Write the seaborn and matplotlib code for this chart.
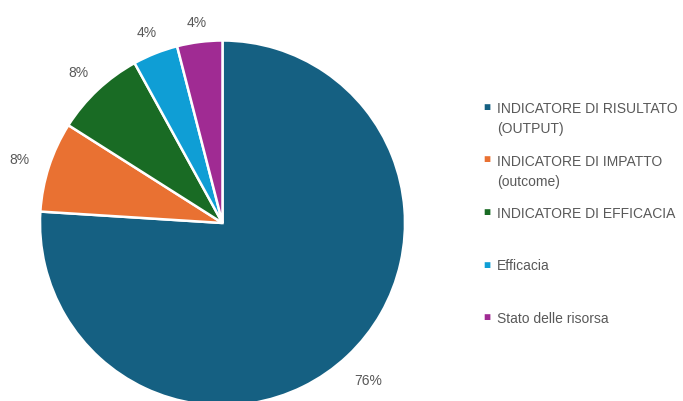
import matplotlib
matplotlib.use("Agg")
import numpy as np
import matplotlib.pyplot as plt
import seaborn as sns

# ── Data ──────────────────────────────────────────────────────────────────────
categories = [
    "INDICATORE DI RISULTATO\n(OUTPUT)",
    "INDICATORE DI IMPATTO\n(outcome)",
    "INDICATORE DI EFFICACIA",
    "Efficacia",
    "Stato delle risorsa",
]
values = [76, 8, 8, 4, 4]
colors = ["#156082", "#E97132", "#196B24", "#0F9ED5", "#A02B93"]

# ── Style ─────────────────────────────────────────────────────────────────────
sns.set_theme(style="white")
plt.rcParams["font.family"] = ["Liberation Sans", "DejaVu Sans"]
text_color = "#595959"

W, H = 683, 401
CX, CY, R = 222.5, H - 223, 182.5

fig = plt.figure(figsize=(W / 100, H / 100), dpi=100)
ax = fig.add_axes([0, 0, 1, 1])

wedges, texts, autotexts = ax.pie(
    values,
    colors=colors,
    startangle=90,
    counterclock=False,
    center=(CX, CY),
    radius=R,
    autopct="%1.0f%%",
    wedgeprops=dict(edgecolor="white", linewidth=1.8),
    textprops=dict(color=text_color, fontsize=10, ha="center", va="center"),
    frame=True,
)
for w in wedges:
    w.set_clip_on(False)

ax.set_xlim(0, W)
ax.set_ylim(0, H)
ax.set_aspect("equal")
ax.axis("off")

# data labels outside the pie, pushed out a bit more where the text is wide
fig.canvas.draw()
renderer = fig.canvas.get_renderer()
gap = 21
for w, t in zip(wedges, autotexts):
    ang = np.deg2rad((w.theta1 + w.theta2) / 2)
    hw = t.get_window_extent(renderer).width / 2
    d = R + gap + abs(np.cos(ang)) * hw
    t.set_position((CX + d * np.cos(ang), CY + d * np.sin(ang) - 3))

# legend: each entry gets a two-line slot, marker beside the first line
slot_top = H - 102
slot = 52.5
for i, (lab, c) in enumerate(zip(categories, colors)):
    y = slot_top - i * slot
    ax.text(497, y, lab, color=text_color, fontsize=10, ha="left", va="top",
            linespacing=1.55)
    ax.text(487, y - 6, "\u25A0", color=c, fontsize=8.5, ha="center", va="center")

fig.savefig("out.png", dpi=100)
